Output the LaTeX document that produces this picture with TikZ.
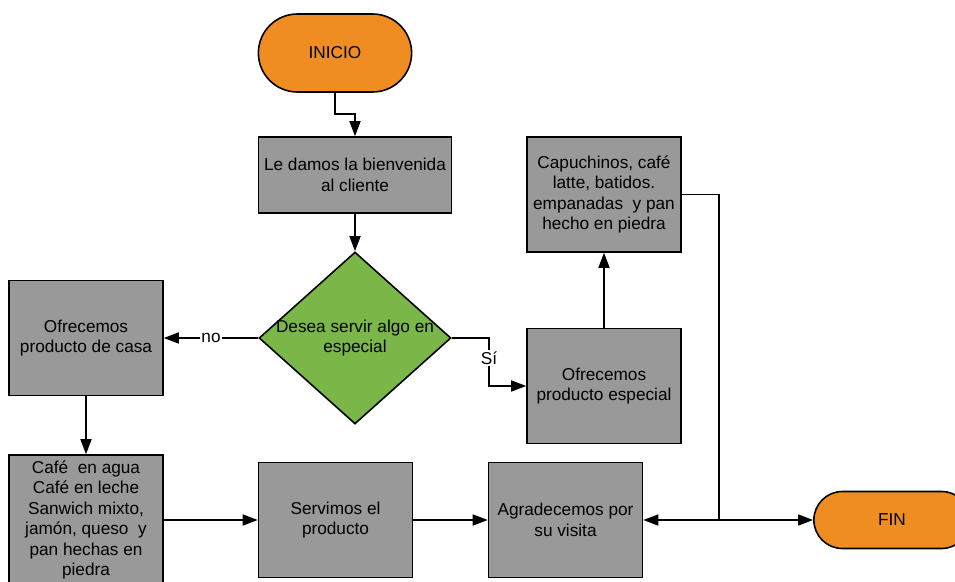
\documentclass[tikz,border=0pt]{standalone}
\usepackage{fontspec}
\setmainfont{Liberation Sans}
\usetikzlibrary{arrows.meta,positioning,shapes.geometric,shapes.misc}
\definecolor{flowGray}{HTML}{999999}
\definecolor{flowOrange}{HTML}{EF8D22}
\definecolor{flowGreen}{HTML}{7AB648}
\begin{document}
\begin{tikzpicture}[
  x=0.02cm,y=-0.02cm,
  font=\fontsize{9.8}{11.7}\selectfont,
  box/.style={draw=black,fill=flowGray,line width=0.9pt,minimum width=3.08cm,minimum height=2.3cm,align=center,inner sep=2pt},
  term/.style={rounded rectangle,draw=black,fill=flowOrange,line width=0.9pt,minimum width=3.3cm,minimum height=1.56cm},
  decision/.style={diamond,draw=black,fill=flowGreen,line width=0.9pt,minimum width=3.84cm,minimum height=3.44cm,inner sep=0pt},
  arrow/.style={-{Triangle[length=0.3cm,width=0.22cm]},draw=black,line width=0.9pt},
  lbl/.style={fill=white,inner sep=1pt}
]
\useasboundingbox (0,0) rectangle (955,581);
\clip (0,0) rectangle (955,581);
\node[term] (inicio) at (335,53) {INICIO};
\node[box,minimum width=3.86cm,minimum height=1.52cm] (bienv) at (355,175) {Le damos la bienvenida\\al cliente};
\node[decision,label={[align=center]center:{Desea servir algo en\\especial}}] (desea) at (355,338) {};
\node[box] (casa) at (86,338) {Ofrecemos\\producto de casa};
\node[box,minimum height=2.6cm] (cafe) at (86,520) {Café~ en agua\\Café en leche\\Sanwich mixto,\\jamón, queso~ y\\pan hechas en\\piedra};
\node[box] (servir) at (335.5,520) {Servimos el\\producto};
\node[box] (agrad) at (565.5,520) {Agradecemos por\\su visita};
\node[box] (especial) at (604,386) {Ofrecemos\\producto especial};
\node[box] (capu) at (604,194.5) {Capuchinos, café\\latte, batidos.\\empanadas~ y pan\\hecho en piedra};
\node[term,minimum width=3.36cm,minimum height=1.14cm] (fin) at (892,520) {FIN};
\coordinate (codo) at (335,114);
\coordinate (sicodo) at (489,386);
\coordinate (junta) at (719,520);
\draw[arrow] (inicio.south) -- (codo) -| (bienv.north);
\draw[arrow] (bienv) -- (desea);
\draw[arrow] (desea) -- node[lbl]{no} (casa);
\draw[arrow] (desea.east) -| node[lbl,pos=0.71]{Sí} (sicodo) -- (especial.west);
\draw[arrow] (especial) -- (capu);
\draw[arrow] (casa) -- (cafe);
\draw[arrow] (cafe) -- (servir);
\draw[arrow] (servir) -- (agrad);
\draw[line width=0.9pt] (capu.east) -| (junta);
\draw[arrow] (junta) -- (fin);
\draw[arrow] (junta) -- (agrad);
\end{tikzpicture}
\end{document}
